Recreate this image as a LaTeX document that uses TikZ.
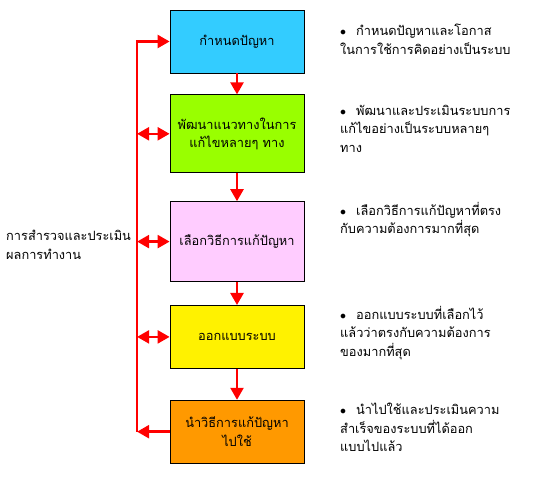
\documentclass[tikz,border=0pt]{standalone}
\usepackage{fontspec}
\newfontfamily\thaifont[Script=Thai]{Loma}
\usepackage{xcolor}
\usetikzlibrary{arrows.meta,positioning,calc}

\definecolor{skyblue}{HTML}{33CCFF}
\definecolor{limegreen}{HTML}{99FF00}
\definecolor{lightpink}{HTML}{FFCCFF}
\definecolor{brightorange}{HTML}{FF9900}

\begin{document}
\begin{tikzpicture}[
    x=1pt, y=-1pt,
    font=\thaifont\fontsize{12.8}{18.5}\selectfont,
    stepbox/.style={rectangle, draw=black, line width=0.8pt, minimum width=134pt, minimum height=63pt, align=center, inner sep=2pt},
    note/.style={anchor=north west, align=left, inner sep=0pt},
    arrow/.style={-{Triangle[length=12pt, width=13pt]}, draw=red, line width=2.4pt},
    dblarrow/.style={{Triangle[length=12pt, width=13pt]}-{Triangle[length=12pt, width=13pt]}, draw=red, line width=2.4pt},
    bus/.style={draw=red, line width=2.4pt}
]
    \useasboundingbox (0,0) rectangle (550,500);

    % Steps
    \node[stepbox, fill=skyblue] (define) at (237,41.5) {กำหนดปัญหา};
    \node[stepbox, fill=limegreen, minimum height=78pt, below=21pt of define] (develop) {พัฒนาแนวทางในการ\\แก้ไขหลายๆ ทาง};
    \node[stepbox, fill=lightpink, minimum height=80pt, below=28pt of develop] (choose) {เลือกวิธีการแก้ปัญหา};
    \node[stepbox, fill=yellow, below=23pt of choose] (design) {ออกแบบระบบ};
    \node[stepbox, fill=brightorange, below=31pt of design] (apply) {นำวิธีการแก้ปัญหา\\ไปใช้};

    % Feedback line
    \coordinate (bustop) at ($(define.west)+(-32.5,0)$);
    \coordinate (busdevelop) at (bustop |- develop.west);
    \coordinate (buschoose) at (bustop |- choose.west);
    \coordinate (busdesign) at (bustop |- design.west);
    \coordinate (busbottom) at (bustop |- apply.west);
    \draw[bus] ([yshift=1.2pt]bustop) -- (busbottom);

    % Review label
    \node[anchor=west, align=left, inner sep=0pt] (review) at (6,245) {การสำรวจและประเมิน\\ผลการทำงาน};

    % Notes
    \node[note] (note1) at (340,24) {$\bullet$\hspace{10pt}กำหนดปัญหาและโอกาส\\ในการใช้การคิดอย่างเป็นระบบ};
    \node[note] (note2) at (340,105) {$\bullet$\hspace{10pt}พัฒนาและประเมินระบบการ\\แก้ไขอย่างเป็นระบบหลายๆ\\ทาง};
    \node[note] (note3) at (340,202) {$\bullet$\hspace{10pt}เลือกวิธีการแก้ปัญหาที่ตรง\\กับความต้องการมากที่สุด};
    \node[note] (note4) at (340,306) {$\bullet$\hspace{10pt}ออกแบบระบบที่เลือกไว้\\แล้วว่าตรงกับความต้องการ\\ของมากที่สุด};
    \node[note] (note5) at (340,403) {$\bullet$\hspace{10pt}นำไปใช้และประเมินความ\\สำเร็จของระบบที่ได้ออก\\แบบไปแล้ว};

    % Arrows
    \draw[arrow] (define) -- (develop);
    \draw[arrow] (develop) -- (choose);
    \draw[arrow] (choose) -- (design);
    \draw[arrow] (design) -- (apply);
    \draw[arrow] ([xshift=-1.2pt]bustop) -- (define);
    \draw[dblarrow] (busdevelop) -- (develop);
    \draw[dblarrow] (buschoose) -- (choose);
    \draw[dblarrow] (busdesign) -- (design);
    \draw[arrow] (apply) -- (busbottom);
\end{tikzpicture}
\end{document}
